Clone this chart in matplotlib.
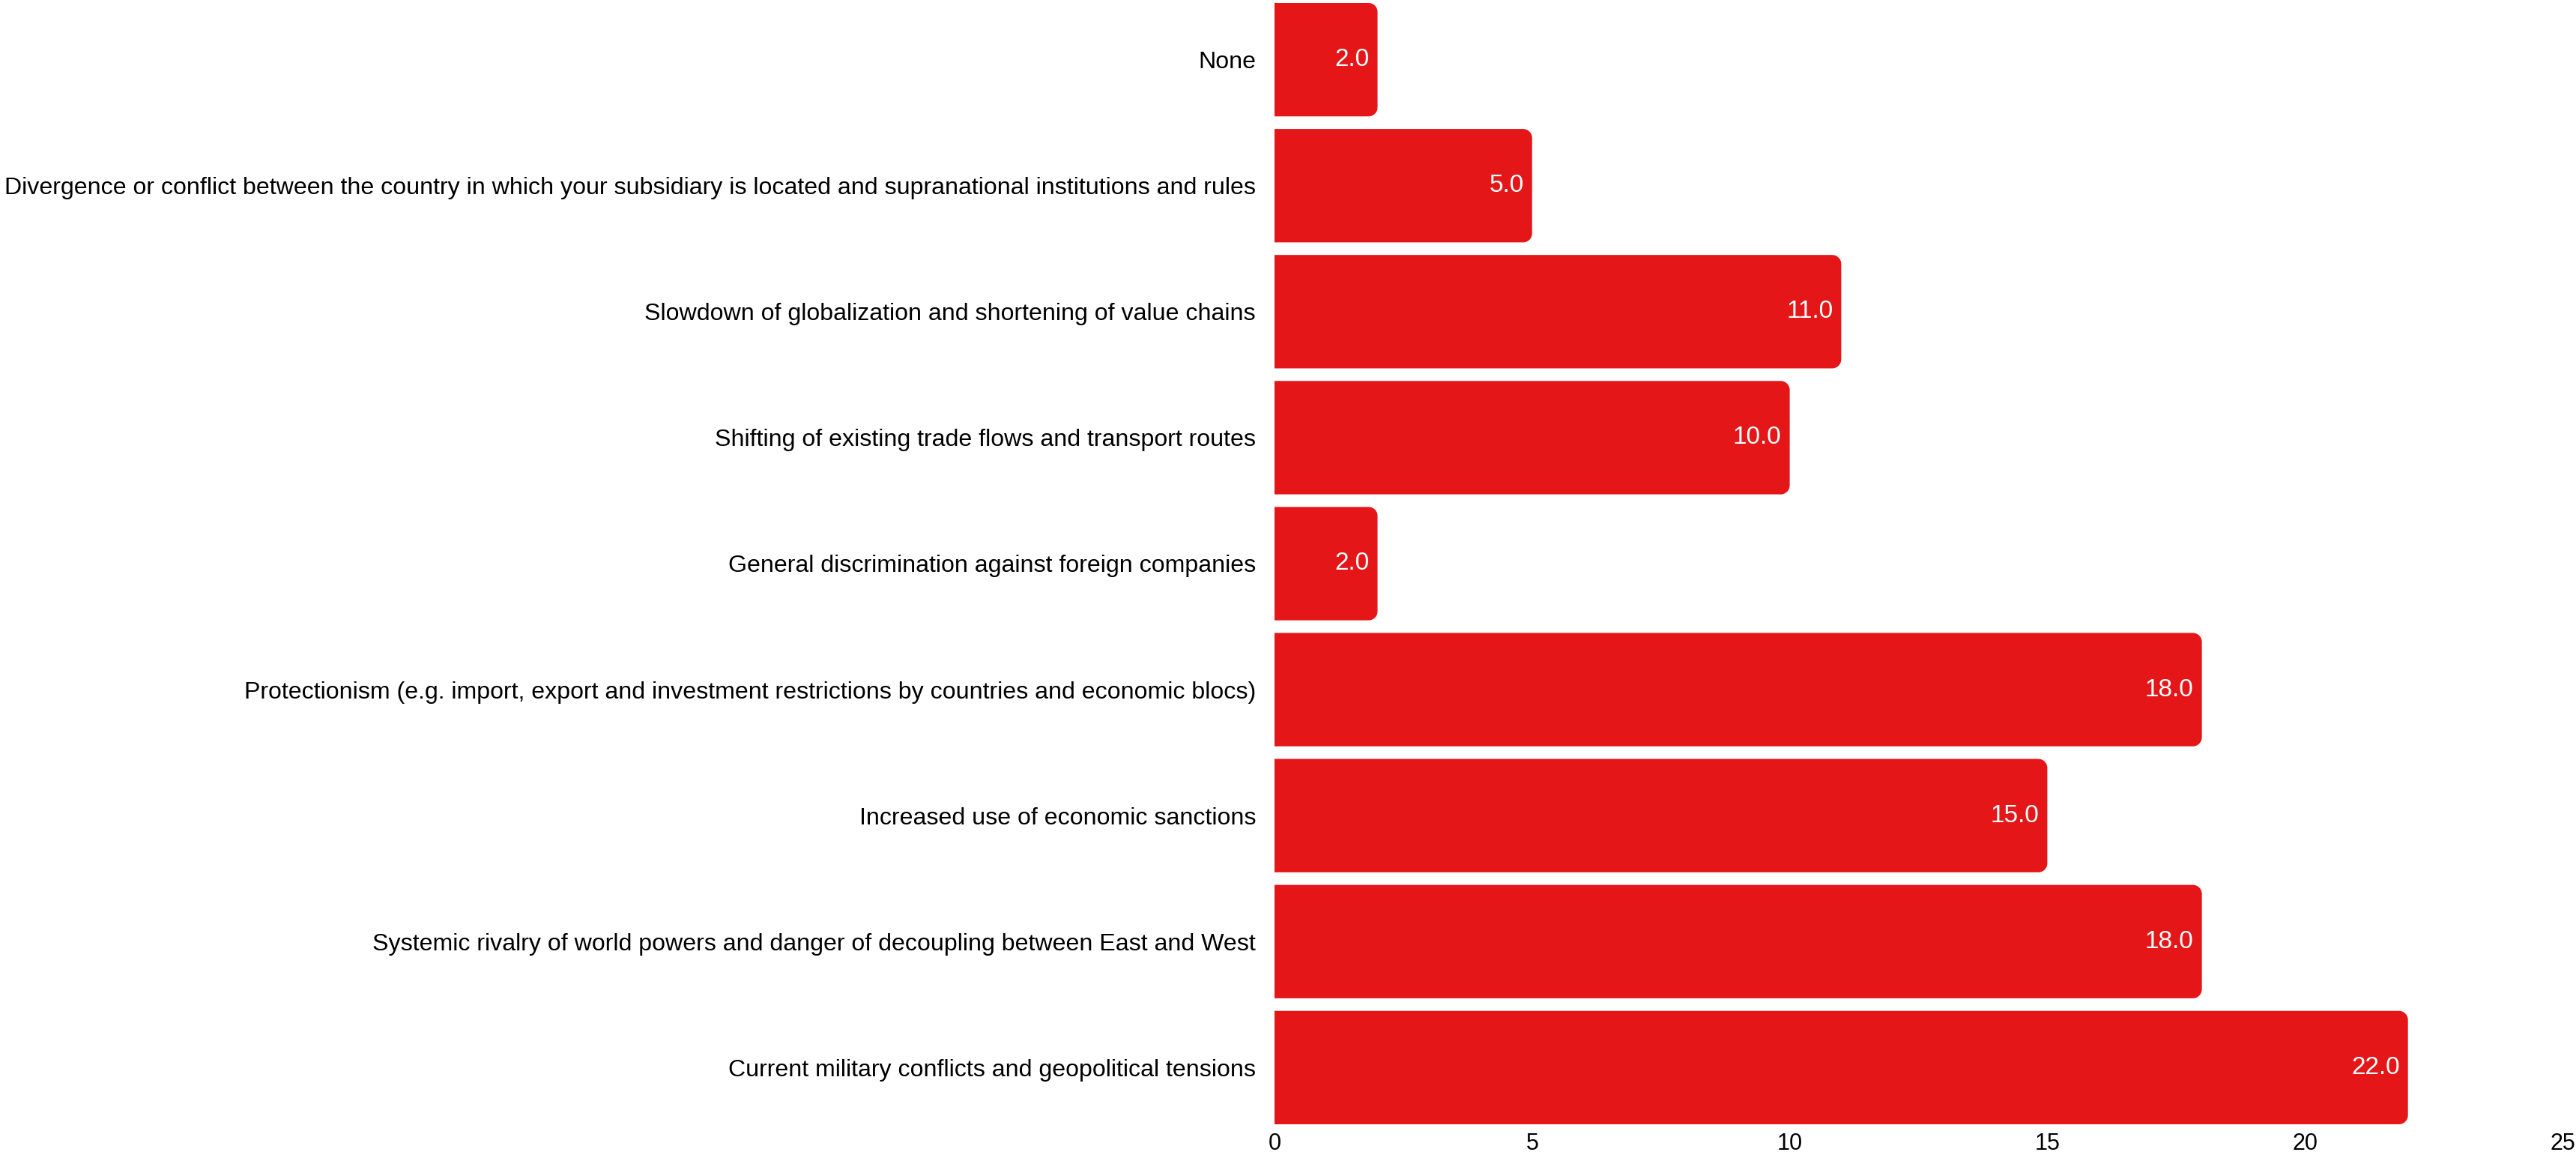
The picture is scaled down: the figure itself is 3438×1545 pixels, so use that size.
#! /usr/bin/env python3

import matplotlib
matplotlib.use("Agg")
from matplotlib import pyplot as plt
from matplotlib.path import Path
from matplotlib.patches import PathPatch

# top to bottom, as shown
categories = [
    "None",
    "Divergence or conflict between the country in which your subsidiary is located and supranational institutions and rules",
    "Slowdown of globalization and shortening of value chains",
    "Shifting of existing trade flows and transport routes",
    "General discrimination against foreign companies",
    "Protectionism (e.g. import, export and investment restrictions by countries and economic blocs)",
    "Increased use of economic sanctions",
    "Systemic rivalry of world powers and danger of decoupling between East and West",
    "Current military conflicts and geopolitical tensions",
]
values = [2.0, 5.0, 11.0, 10.0, 2.0, 18.0, 15.0, 18.0, 22.0]
x_ticks = [0, 5, 10, 15, 20, 25]

BAR_COLOR = "#e41618"
FONT = ["Liberation Sans", "DejaVu Sans"]


def rounded_right(x0, y0, w, h, rx, ry):
    # rectangle with the two right-hand corners rounded (data units)
    rx = min(rx, w / 2)
    k = 0.5523
    x1 = x0 + w
    y1 = y0 + h
    verts = [
        (x0, y0),
        (x1 - rx, y0),
        (x1 - rx + k * rx, y0), (x1, y0 + ry - k * ry), (x1, y0 + ry),
        (x1, y1 - ry),
        (x1, y1 - ry + k * ry), (x1 - rx + k * rx, y1), (x1 - rx, y1),
        (x0, y1),
        (x0, y0),
    ]
    codes = [Path.MOVETO, Path.LINETO,
             Path.CURVE4, Path.CURVE4, Path.CURVE4,
             Path.LINETO,
             Path.CURVE4, Path.CURVE4, Path.CURVE4,
             Path.LINETO, Path.CLOSEPOLY]
    return Path(verts, codes)


def main():
    plt.rcParams["font.family"] = FONT
    fig = plt.figure(figsize=(34.38, 15.45), dpi=100)
    left, right = 1701 / 3438, 3420 / 3438
    top, bottom = 1 - 4 / 1545, 1 - 1500 / 1545
    ax = fig.add_axes([left, bottom, right - left, top - bottom])

    pos = list(range(len(categories)))
    bars = ax.barh(pos, values, height=0.9, color=BAR_COLOR)
    ax.set_xlim(0, 25)
    ax.set_ylim(len(categories) - 0.55, -0.45)

    # swap plain rectangles for ones with rounded right corners
    px_x = (right - left) * 3438 / 25
    px_y = (top - bottom) * 1545 / (len(categories) - 0.1)
    for bar, v in zip(bars, values):
        path = rounded_right(bar.get_x(), bar.get_y(), bar.get_width(),
                             bar.get_height(), 12 / px_x, 12 / px_y)
        ax.add_patch(PathPatch(path, facecolor=BAR_COLOR, edgecolor="none"))
        bar.set_visible(False)
        ax.annotate(f"{v:.1f}", xy=(v, bar.get_y() + bar.get_height() / 2),
                    xytext=(-8, 0), textcoords="offset points",
                    ha="right", va="center", color="white", fontsize=24)

    ax.set_yticks(pos)
    ax.set_yticklabels(categories, fontsize=23.1)
    ax.set_xticks(x_ticks)
    ax.set_xticklabels([str(t) for t in x_ticks], fontsize=22)
    ax.tick_params(axis="both", length=0)
    ax.tick_params(axis="y", pad=18)
    ax.tick_params(axis="x", pad=8)
    for s in ax.spines.values():
        s.set_visible(False)

    fig.savefig("out.png", dpi=100)


if __name__ == "__main__":
    main()
